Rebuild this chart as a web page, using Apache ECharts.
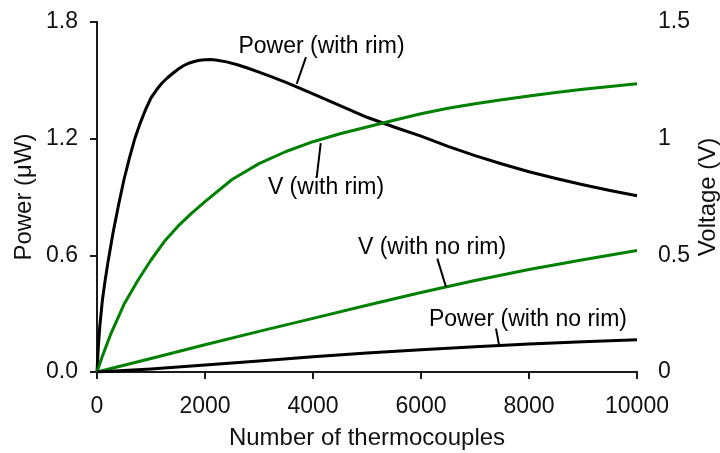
<!DOCTYPE html>
<html><head><meta charset="utf-8">
<script src="https://cdn.jsdelivr.net/npm/echarts@6/dist/echarts.min.js"></script>
<style>html,body{margin:0;padding:0;background:#fff}#c{width:720px;height:453px}</style>
</head><body><div id="c"></div>
<script>
// ---- data ----
const powerRimX = [0,25,50,100,150,200,250,300,400,500,600,700,800,900,1000,1100,1200,1300,1400,1500,1600,1700,1800,1900,2000,2100,2200,2400,2600,2800,3000,3200,3500,4000,4500,5000,5500,6000,6500,7000,7500,8000,8500,9000,9500,10000];
const powerRimY = [0,0.13,0.23,0.37,0.47,0.56,0.64,0.72,0.86,0.99,1.10,1.20,1.28,1.35,1.41,1.45,1.485,1.512,1.535,1.557,1.575,1.588,1.597,1.603,1.606,1.607,1.605,1.595,1.58,1.562,1.542,1.522,1.49,1.43,1.37,1.31,1.26,1.213,1.16,1.113,1.07,1.03,0.995,0.963,0.933,0.906];
const vRimX = [0,100,250,500,750,1000,1250,1500,1750,2000,2500,3000,3500,4000,4500,5000,5500,6000,6500,7000,7500,8000,8500,9000,9500,10000];
const vRimY = [0,0.068,0.16,0.29,0.39,0.48,0.56,0.625,0.68,0.73,0.825,0.893,0.945,0.987,1.021,1.05,1.079,1.107,1.13,1.15,1.167,1.183,1.198,1.212,1.224,1.235];
const noRimX = [0,1000,2000,3000,4000,5000,6000,7000,8000,9000,10000];
const vNoRimY = [0,0.058,0.117,0.174,0.230,0.286,0.341,0.392,0.439,0.481,0.521];
const powerNoRimY = [0,0.016,0.036,0.057,0.078,0.098,0.115,0.130,0.144,0.156,0.166];
const xAxisName = 'Number of thermocouples';
const leftAxisName = 'Power (\u03bcW)';
const rightAxisName = 'Voltage (V)';
// annotation anchors in data units (x, left-axis value)
const annotations = [
  {text:'Power (with rim)', at:[4157,1.675], from:[3870,1.619], to:[3698,1.482]},
  {text:'V (with rim)', at:[4241,0.949], from:[4143,1.177], to:[4069,1.002]},
  {text:'V (with no rim)', at:[6204,0.641], from:[6302,0.583], to:[6463,0.437]},
  {text:'Power (with no rim)', at:[7981,0.271], from:[7389,0.223], to:[7450,0.132]}
];

const FONT = '"Liberation Sans", Arial, sans-serif';
const pairs = (xs, ys) => xs.map((x,i)=>[x, ys[i]]);
const axisLine = {show:true, lineStyle:{color:'#1a1a1a', width:2}};
const tick = (inside)=>({show:true, inside:inside, length:7, lineStyle:{color:'#1a1a1a', width:2}});

const chart = echarts.init(document.getElementById('c'), null, {renderer:'canvas'});
const option = {
  animation:false,
  backgroundColor:'#fff',
  grid:{left:97, top:22, width:540, height:350, containLabel:false, outerBoundsMode:'none'},
  textStyle:{fontFamily:FONT},
  xAxis:[
    {type:'value', position:'bottom', min:0, max:10000, interval:2000,
     axisLine:axisLine, axisTick:tick(false),
     axisLabel:{fontSize:23, color:'#111', margin:23, fontFamily:FONT, formatter:v=>String(v)},
     splitLine:{show:false},
     name:xAxisName, nameLocation:'middle', nameGap:54, nameMoveOverlap:false,
     nameTextStyle:{fontSize:24, color:'#111', fontFamily:FONT}},
    {type:'value', position:'top', min:0, max:10000, interval:2000,
     axisLine:axisLine, axisTick:tick(true),
     axisLabel:{show:false}, splitLine:{show:false}}
  ],
  yAxis:[
    {type:'value', position:'left', min:0, max:1.8, interval:0.6,
     axisLine:axisLine, axisTick:tick(false),
     axisLabel:{fontSize:23, color:'#111', margin:19, fontFamily:FONT, formatter:v=>v.toFixed(1)},
     splitLine:{show:false},
     name:leftAxisName, nameLocation:'middle', nameGap:61, nameRotate:90, nameMoveOverlap:false,
     nameTextStyle:{fontSize:24, color:'#111', fontFamily:FONT}},
    {type:'value', position:'right', min:0, max:1.5, interval:0.5,
     axisLine:axisLine, axisTick:tick(true),
     axisLabel:{fontSize:23, color:'#111', margin:21, fontFamily:FONT},
     splitLine:{show:false},
     name:rightAxisName, nameLocation:'middle', nameGap:59, nameRotate:90, nameMoveOverlap:false,
     nameTextStyle:{fontSize:24, color:'#111', fontFamily:FONT}}
  ],
  series:[
    {name:'Power (with rim)', type:'line', xAxisIndex:0, yAxisIndex:0, data:pairs(powerRimX, powerRimY),
     showSymbol:false, smooth:false, lineStyle:{color:'#000', width:3, join:'round'}},
    {name:'V (with rim)', type:'line', xAxisIndex:0, yAxisIndex:1, data:pairs(vRimX, vRimY),
     showSymbol:false, smooth:false, lineStyle:{color:'#008000', width:3, join:'round'}},
    {name:'V (with no rim)', type:'line', xAxisIndex:0, yAxisIndex:1, data:pairs(noRimX, vNoRimY),
     showSymbol:false, smooth:false, lineStyle:{color:'#008000', width:3, join:'round'}},
    {name:'Power (with no rim)', type:'line', xAxisIndex:0, yAxisIndex:0, data:pairs(noRimX, powerNoRimY),
     showSymbol:false, smooth:false, lineStyle:{color:'#000', width:3, join:'round'}}
  ]
};
chart.setOption(option);

const graphics = [];
annotations.forEach(a=>{
  const t = chart.convertToPixel({xAxisIndex:0, yAxisIndex:0}, a.at);
  const p1 = chart.convertToPixel({xAxisIndex:0, yAxisIndex:0}, a.from);
  const p2 = chart.convertToPixel({xAxisIndex:0, yAxisIndex:0}, a.to);
  graphics.push({type:'line', silent:true, z:10, shape:{x1:p1[0], y1:p1[1], x2:p2[0], y2:p2[1]},
                 style:{stroke:'#000', lineWidth:2}});
  graphics.push({type:'text', silent:true, z:10, x:t[0], y:t[1],
                 style:{text:a.text, fill:'#000', font:'23px ' + FONT, align:'center', verticalAlign:'middle',
                        textAlign:'center', textVerticalAlign:'middle'}});
});
chart.setOption({graphic:graphics});
</script>
</body></html>
